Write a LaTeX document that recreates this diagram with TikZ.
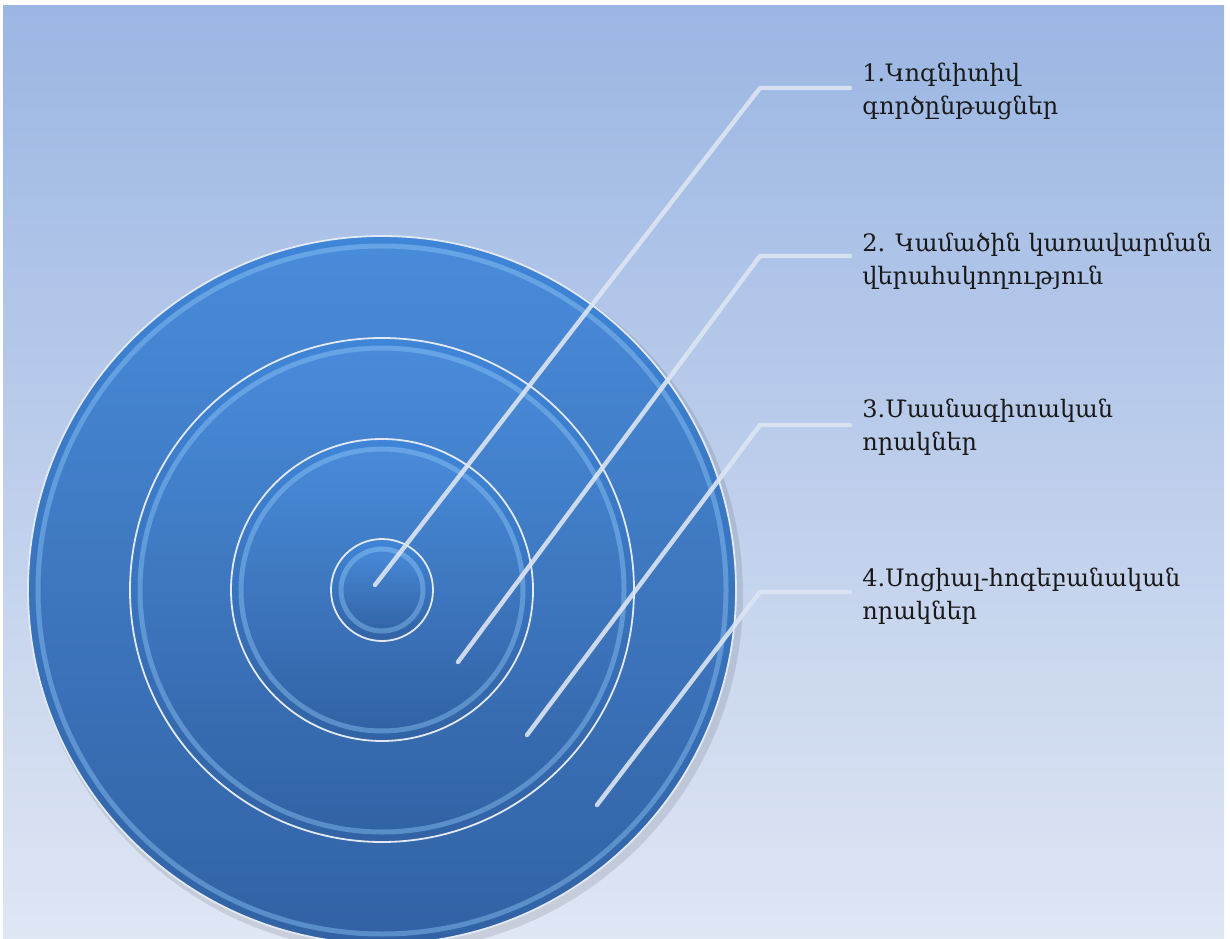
\documentclass[tikz,border=0pt]{standalone}
\usepackage{fontspec}
\setmainfont{DejaVu Serif}
\usetikzlibrary{positioning}
\definecolor{bgtop}{HTML}{9BB6E3}
\definecolor{bgbot}{HTML}{DFE6F4}
\definecolor{disctop}{HTML}{3F85D8}
\definecolor{discbot}{HTML}{3262A4}
\definecolor{rim}{HTML}{E2E9F2}
\definecolor{bevel}{HTML}{8CC4F4}
\definecolor{leadcol}{HTML}{DCE5F2}
\tikzstyle{rimline} = [draw=rim, line width=0.9pt]
\tikzstyle{bevelline} = [draw=bevel, line width=2.5pt, opacity=0.45]
\tikzstyle{leader} = [draw=leadcol, line width=2.2pt, line cap=round, line join=round, opacity=0.9]
\tikzstyle{ringtext} = [anchor=west, align=left, inner xsep=6pt, text=black!90,
                        font=\fontsize{12}{16.5}\selectfont]

\begin{document}
\begin{tikzpicture}[x=0.5pt, y=0.5pt]
    \useasboundingbox (0,0) rectangle (1230,938);
    \clip (0,0) rectangle (1230,938);
    \fill[white] (0,0) rectangle (1230,938);
    \shade[top color=bgtop, bottom color=bgbot] (3,0) rectangle (1224,932);
    % target discs
    \coordinate (c) at (382,348);
    \fill[black, opacity=0.1] (386,343) circle (357);
    \foreach \r in {354, 252, 151, 51} {
      \shade[top color=disctop, bottom color=discbot] (c) circle (\r);
      \draw[rimline] (c) circle (\r);
      \shade[top color=disctop!95!white, bottom color=discbot] (c) circle (\r-8);
      \draw[bevelline] (c) circle (\r-10);
    }
    % leaders and texts
    \foreach \i/\sx/\sy/\ex/\ey/\ty/\txt in {
        1/375/353/760/850/847/{1.Կոգնիտիվ\\գործընթացներ},
        2/458/276/760/682/677/{2. Կամածին կառավարման\\վերահսկողություն},
        3/527/203/760/513/511/{3.Մասնագիտական\\որակներ},
        4/597/133/760/346/342/{4.Սոցիալ-հոգեբանական\\որակներ}} {
      \coordinate (s\i) at (\sx,\sy);
      \coordinate (e\i) at (\ex,\ey);
      \node[ringtext] (t\i) at (850,\ty) {\txt};
      \draw[leader] (s\i) -- (e\i) -- (e\i -| t\i.west);
    }
\end{tikzpicture}
\end{document}
